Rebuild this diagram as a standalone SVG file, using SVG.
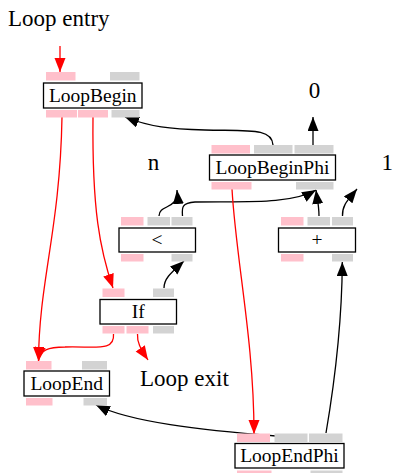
<svg xmlns="http://www.w3.org/2000/svg" width="393" height="473" viewBox="0 0 393 473">
<style>
.box{fill:#fff;stroke:#000;stroke-width:1.3}
.pp{fill:#ffc0cb}
.gp{fill:#d3d3d3}
.nt{font-family:"Liberation Serif",serif;font-size:19.5px;fill:#000;text-anchor:middle}
.lt{font-family:"Liberation Serif",serif;font-size:23px;fill:#000}
.ce{fill:none;stroke:#f00;stroke-width:1.3;marker-end:url(#ar)}
.de{fill:none;stroke:#000;stroke-width:1.3;marker-end:url(#ab)}
</style>
<defs>
<marker id="ar" markerUnits="userSpaceOnUse" markerWidth="15" markerHeight="12" refX="14" refY="5.5" orient="auto"><path d="M0,0 L14,5.5 L0,11 z" fill="#f00"/></marker>
<marker id="ab" markerUnits="userSpaceOnUse" markerWidth="15" markerHeight="12" refX="14" refY="5.5" orient="auto"><path d="M0,0 L14,5.5 L0,11 z" fill="#000"/></marker>
</defs>
<rect width="393" height="473" fill="#fff"/>
<g id="labels">
<text class="lt" x="8" y="26">Loop entry</text>
<text class="lt" x="314.5" y="98" text-anchor="middle">0</text>
<text class="lt" x="153.5" y="170" text-anchor="middle">n</text>
<text class="lt" x="381.5" y="170">1</text>
<text class="lt" x="140" y="386">Loop exit</text>
</g>
<g id="connectors">
<path class="ce" d="M60,46 L60,72"/>
<path class="ce" d="M62,117 C60,230 39,280 38.5,361"/>
<path class="ce" d="M93,117 C92,210 100,250 113,288"/>
<path class="de" d="M273,145 C272,128 250,131 205,130 C170,129 150,127 125,117"/>
<path class="de" d="M313,145 L313,117"/>
<path class="de" d="M159,216 C159,204 179,210 177,190"/>
<path class="de" d="M182.5,216 C182,208 181,203 195,202 C240,201 290,205 316,190"/>
<path class="de" d="M319,216 C319,205 317,198 316,190"/>
<path class="de" d="M342.5,216 C342,205 348,200 357,189"/>
<path class="de" d="M164,288 C164,278 172,272 184,261"/>
<path class="de" d="M276,436 C200,430 130,422 96,405"/>
<path class="de" d="M326,433 C335,380 342,320 342.3,262"/>
<path class="ce" d="M113.5,334 C115,352 95,346 65,347 C48,347 40,350 38.5,361"/>
<path class="ce" d="M137.5,334 C137,342 140,348 148,360"/>
<path class="ce" d="M232,189 C236,260 254,340 254,434"/>
</g>
<g id="LoopBegin">
<rect class="pp" x="46" y="72" width="29.5" height="8.5"/>
<rect class="gp" x="110" y="72" width="29.5" height="8.5"/>
<rect class="box" x="43.5" y="83" width="98.5" height="25"/>
<text class="nt" x="92.75" y="101.5">LoopBegin</text>
<rect class="pp" x="46" y="110" width="31" height="7.5"/>
<rect class="pp" x="78" y="110" width="30" height="7.5"/>
<rect class="gp" x="111.5" y="110" width="28" height="7.5"/>
</g>
<g id="LoopBeginPhi">
<rect class="pp" x="211.5" y="145" width="38.5" height="8.5"/>
<rect class="gp" x="254" y="145" width="38.5" height="8.5"/>
<rect class="gp" x="294.5" y="145" width="39" height="8.5"/>
<rect class="box" x="209.5" y="155" width="126" height="25"/>
<text class="nt" x="272.5" y="173.5">LoopBeginPhi</text>
<rect class="pp" x="211.5" y="182" width="40" height="7.5"/>
<rect class="gp" x="296" y="182" width="37.5" height="7.5"/>
</g>
<g id="lt_node">
<rect class="pp" x="121" y="217" width="22.5" height="8.5"/>
<rect class="gp" x="147.5" y="217" width="22.5" height="8.5"/>
<rect class="gp" x="171.5" y="217" width="21" height="8.5"/>
<rect class="box" x="119" y="228" width="76.5" height="24"/>
<text class="nt" x="157" y="246">&lt;</text>
<rect class="pp" x="121" y="254" width="22.5" height="7.5"/>
<rect class="gp" x="171.5" y="254" width="21" height="7.5"/>
</g>
<g id="plus_node">
<rect class="pp" x="281" y="217" width="22.5" height="8.5"/>
<rect class="gp" x="307.5" y="217" width="22.5" height="8.5"/>
<rect class="gp" x="332" y="217" width="21" height="8.5"/>
<rect class="box" x="278.5" y="228" width="77" height="24"/>
<text class="nt" x="317" y="246">+</text>
<rect class="pp" x="281" y="254" width="22.5" height="7.5"/>
<rect class="gp" x="332" y="254" width="21" height="7.5"/>
</g>
<g id="If">
<rect class="pp" x="102.5" y="288.5" width="22" height="8.5"/>
<rect class="gp" x="153" y="288.5" width="21" height="8.5"/>
<rect class="box" x="100" y="299.5" width="76.5" height="24.5"/>
<text class="nt" x="138.25" y="317.5">If</text>
<rect class="pp" x="102.5" y="326" width="22" height="7.5"/>
<rect class="pp" x="126.5" y="326" width="22" height="7.5"/>
<rect class="gp" x="153" y="326" width="21" height="7.5"/>
</g>
<g id="LoopEnd">
<rect class="pp" x="26" y="361" width="25.5" height="8.5"/>
<rect class="gp" x="82" y="361" width="25" height="8.5"/>
<rect class="box" x="24" y="371" width="85.5" height="25"/>
<text class="nt" x="66.75" y="389.5">LoopEnd</text>
<rect class="pp" x="26" y="398" width="26.5" height="7.5"/>
<rect class="gp" x="83.5" y="398" width="23.5" height="7.5"/>
</g>
<g id="LoopEndPhi">
<rect class="pp" x="237" y="433.5" width="33" height="8.5"/>
<rect class="gp" x="274.5" y="433.5" width="33" height="8.5"/>
<rect class="gp" x="309" y="433.5" width="33.5" height="8.5"/>
<rect class="box" x="235" y="443.5" width="109" height="24.5"/>
<text class="nt" x="289.5" y="462">LoopEndPhi</text>
<rect class="pp" x="237" y="470.5" width="34.5" height="7.5"/>
<rect class="gp" x="310.5" y="470.5" width="32" height="7.5"/>
</g>
</svg>
